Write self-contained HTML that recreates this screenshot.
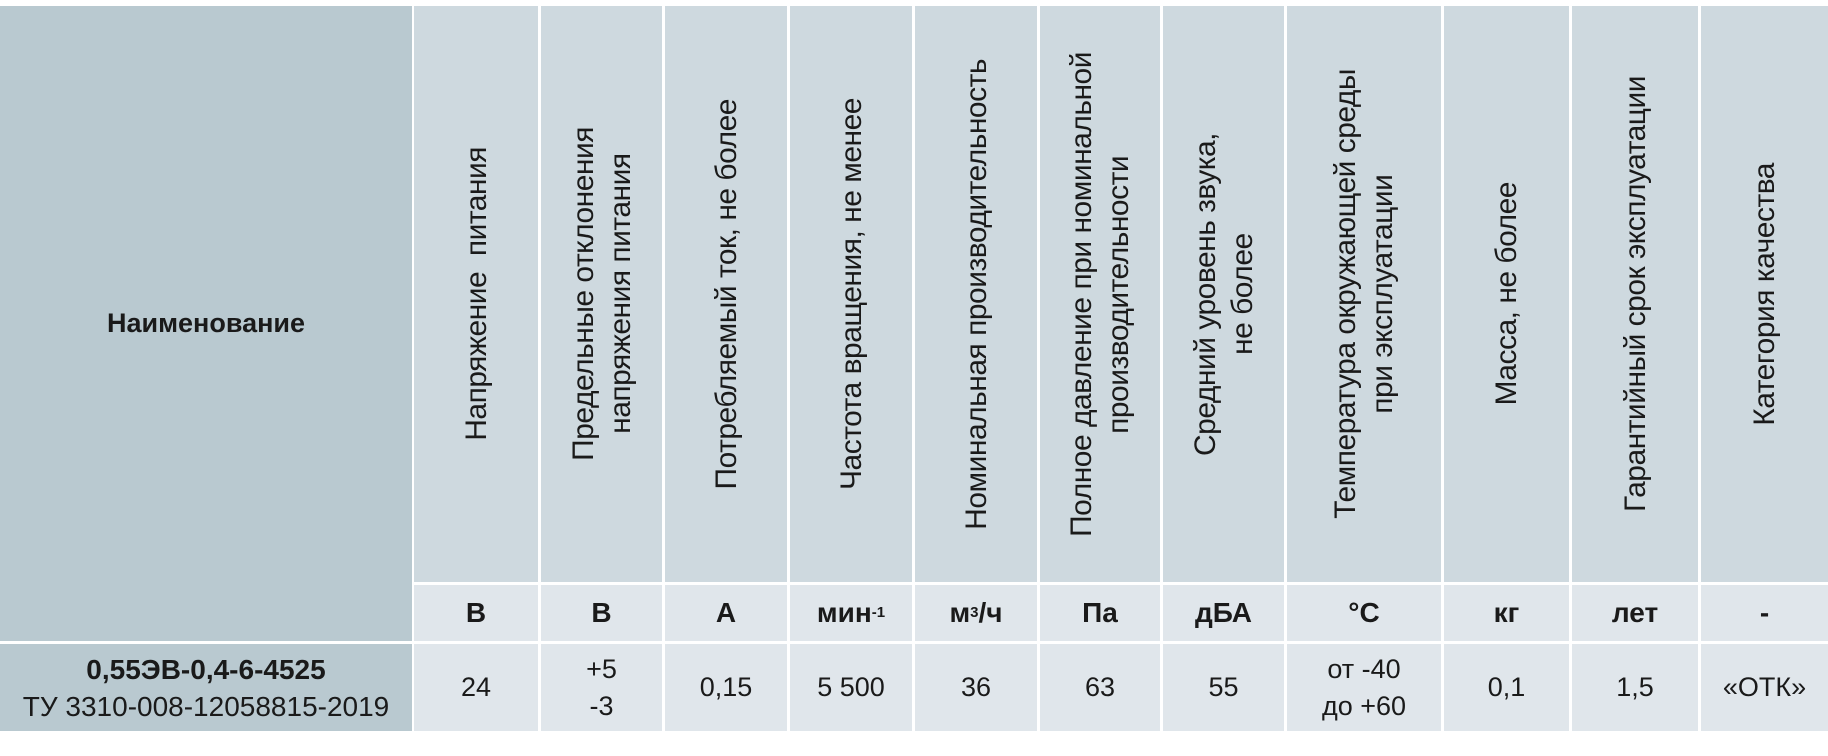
<!DOCTYPE html>
<html><head><meta charset="utf-8"><style>
body{margin:0;width:1828px;height:756px;background:#fff;position:relative;overflow:hidden;font-family:"Liberation Sans","DejaVu Sans",sans-serif;color:#1a1a1a}
.c{position:absolute;display:flex;align-items:center;justify-content:center;text-align:center;box-sizing:border-box}
.h{background:#ced9df}
.u{background:#e0e6eb;font-weight:bold;font-size:28px}
.d{background:#e0e6eb;font-size:27px;line-height:37px}
.n{background:#b9c9d0}
.v{writing-mode:vertical-rl;transform:rotate(180deg);font-size:30px;line-height:37px;letter-spacing:-0.5px;white-space:nowrap}
sup{font-size:15px;vertical-align:10px;line-height:0}
</style></head><body>
<div class="c n" style="left:0;top:6px;width:412px;height:635px;font-weight:bold;font-size:27px">Наименование</div>
<div class="c n" style="left:0;top:644px;width:412px;height:87px;font-size:28px;line-height:37px"><div><b>0,55ЭВ-0,4-6-4525</b><br>ТУ 3310-008-12058815-2019</div></div>
<script>
const cols=[[414,538],[541,662],[665,787],[790,912],[915,1037],[1040,1160],[1163,1284],[1287,1441],[1444,1569],[1572,1698],[1701,1828]];
const heads=["Напряжение&nbsp;&nbsp;питания","Предельные отклонения<br>напряжения питания","Потребляемый ток, не более","Частота вращения, не менее","Номинальная производительность","Полное давление при номинальной<br>производительности","Средний уровень звука,<br>не более","Температура окружающей среды<br>при эксплуатации","Масса, не более","Гарантийный срок эксплуатации","Категория качества"];
const units=["В","В","А","мин<sup>-1</sup>","м<sup>3</sup>/ч","Па","дБА","°С","кг","лет","-"];
const vals=["24","+5<br>-3","0,15","5 500","36","63","55","от -40<br>до +60","0,1","1,5","«ОТК»"];
const root=document.body;
cols.forEach((c,i)=>{
 const w=c[1]-c[0];
 const h=document.createElement('div');h.className='c h';
 h.style.cssText=`left:${c[0]}px;top:6px;width:${w}px;height:576px`;
 h.innerHTML=`<div class="v">${heads[i]}</div>`;
 
 
 root.appendChild(h);
 const u=document.createElement('div');u.className='c u';
 u.style.cssText=`left:${c[0]}px;top:585px;width:${w}px;height:56px`;
 u.innerHTML=units[i];
 
 
 root.appendChild(u);
 const d=document.createElement('div');d.className='c d';
 d.style.cssText=`left:${c[0]}px;top:644px;width:${w}px;height:87px`;
 d.innerHTML=`<div>${vals[i]}</div>`;
 
 
 root.appendChild(d);
});
</script>
</body></html>
